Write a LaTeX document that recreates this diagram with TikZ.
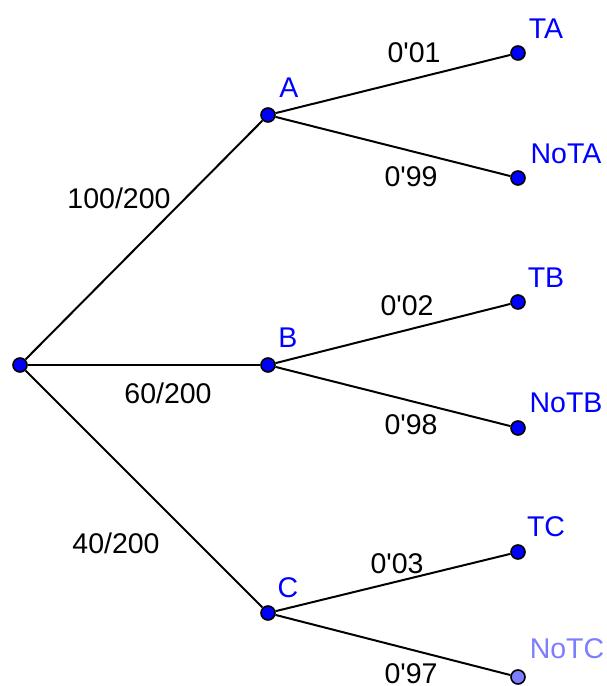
\documentclass[tikz,border=0pt]{standalone}
\usepackage{fontspec}
\setmainfont{Liberation Sans}
\begin{document}
\begin{tikzpicture}[x=1pt,y=-1pt,
  dot/.style={circle,draw=black,line width=1.6pt,fill=ptblue,inner sep=0pt,minimum size=14pt},
  lightdot/.style={dot,fill=ptlight},
  edge/.style={draw=black,line width=2pt},
  lbl/.style={font=\fontsize{28.5}{34}\selectfont,inner sep=0pt,anchor=base,text=black},
  nlbl/.style={lbl,text=ptblue},
  llbl/.style={lbl,text=ptlight}]
\definecolor{ptblue}{RGB}{0,0,255}
\definecolor{ptlight}{RGB}{125,125,255}
\useasboundingbox (0,0) rectangle (607,686);
% dots
\node[dot] (R) at (20,365) {};
\node[dot] (A) at (268,115) {};
\node[dot] (B) at (268,365) {};
\node[dot] (C) at (268,613) {};
\node[dot] (TA) at (518,53) {};
\node[dot] (NoTA) at (518,178) {};
\node[dot] (TB) at (518,302) {};
\node[dot] (NoTB) at (518,428) {};
\node[dot] (TC) at (518,552) {};
\node[lightdot] (NoTC) at (518,677) {};
% edges
\draw[edge] (R) -- (A);
\draw[edge] (R) -- (B);
\draw[edge] (R) -- (C);
\draw[edge] (A) -- (TA);
\draw[edge] (A) -- (NoTA);
\draw[edge] (B) -- (TB);
\draw[edge] (B) -- (NoTB);
\draw[edge] (C) -- (TC);
\draw[edge] (C) -- (NoTC);
% node labels
\node[nlbl] (lA) at (289,97) {A};
\node[nlbl] (lB) at (288,347) {B};
\node[nlbl] (lC) at (288,597) {C};
\node[nlbl] (lTA) at (546,38) {TA};
\node[nlbl] (lNoTA) at (566,163) {NoTA};
\node[nlbl] (lTB) at (546,287) {TB};
\node[nlbl] (lNoTB) at (566,412) {NoTB};
\node[nlbl] (lTC) at (546,536) {TC};
\node[llbl] (lNoTC) at (567,658) {NoTC};
% edge labels
\node[lbl] (pA) at (119,208) {100/200};
\node[lbl] (pB) at (168,403) {60/200};
\node[lbl] (pC) at (116,553) {40/200};
\node[lbl] (pTA) at (414,62) {0\textquotesingle 01};
\node[lbl] (pNoTA) at (411,186) {0\textquotesingle 99};
\node[lbl] (pTB) at (407,315) {0\textquotesingle 02};
\node[lbl] (pNoTB) at (411,434) {0\textquotesingle 98};
\node[lbl] (pTC) at (397,573) {0\textquotesingle 03};
\node[lbl] (pNoTC) at (411,683) {0\textquotesingle 97};
\end{tikzpicture}
\end{document}
